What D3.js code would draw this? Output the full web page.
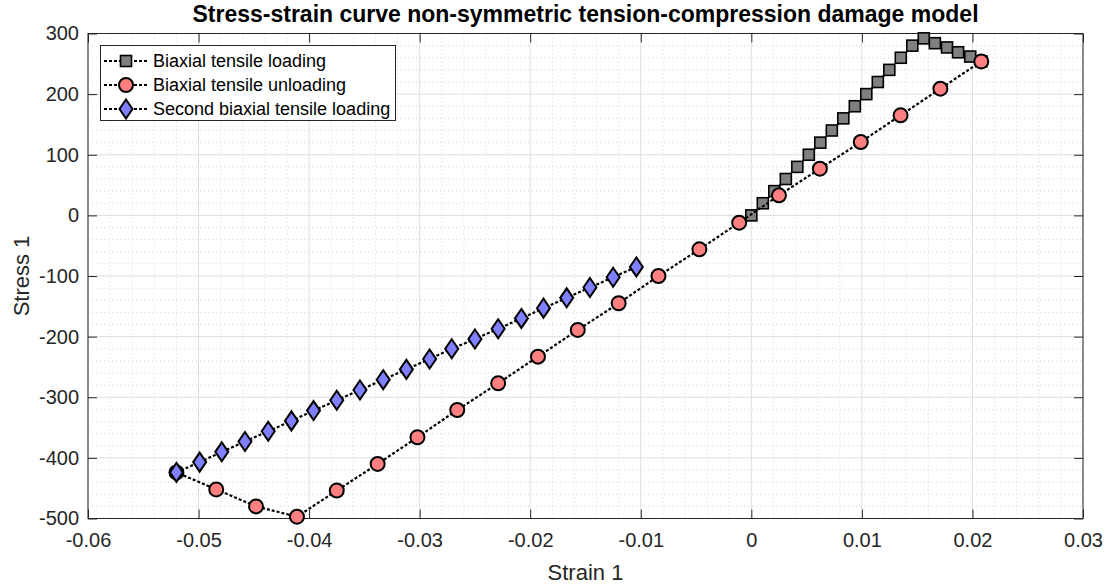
<!DOCTYPE html>
<html>
<head>
<meta charset="utf-8">
<script src="https://cdn.jsdelivr.net/npm/d3@7"></script>
<style>
  html, body { margin: 0; padding: 0; background: #fff; }
  svg { display: block; font-family: "Liberation Sans", Arial, Helvetica, sans-serif; }
</style>
</head>
<body>
<svg id="chart" width="1108" height="584"></svg>
<script>
// Biaxial tensile loading (strain, stress)
const loadStrain = [0, 0.00104, 0.00208, 0.00312, 0.00416, 0.0052, 0.00624, 0.00728, 0.00832, 0.00936,
  0.0104, 0.01144, 0.01248, 0.01352, 0.01456, 0.0156, 0.0166, 0.0177, 0.0187, 0.0198, 0.0208];
const loadStress = [0, 20, 40, 60, 80, 100, 120, 140, 160, 180,
  200, 220, 240, 260, 280, 292, 284, 277, 269, 262, 254];

// Biaxial tensile unloading
const unloadStrain = [0.0208, 0.0171, 0.0135, 0.0099, 0.0062, 0.0025, -0.0011, -0.0047, -0.0084, -0.0120,
  -0.0157, -0.0193, -0.0229, -0.0266, -0.0302, -0.0338, -0.0375, -0.0411, -0.0448, -0.0484, -0.0520];
const unloadStress = [254, 209, 165, 121, 77, 33, -12, -56, -100, -145,
  -189, -233, -277, -321, -366, -410, -454, -497, -480, -452, -424];

// Second biaxial tensile loading
const reloadStrain = [-0.0520, -0.0499, -0.0479, -0.0458, -0.0437, -0.0416, -0.0396, -0.0375, -0.0354, -0.0333,
  -0.0312, -0.0291, -0.0271, -0.0250, -0.0229, -0.0208, -0.0188, -0.0167, -0.0146, -0.0125, -0.0104];
const reloadStress = [-424, -407, -390, -373, -356, -339, -322, -305, -288, -271,
  -254, -237, -220, -204, -187, -170, -153, -136, -119, -102, -85];

const seriesNames = ["Biaxial tensile loading", "Biaxial tensile unloading", "Second biaxial tensile loading"];

const xTicks = [-0.06, -0.05, -0.04, -0.03, -0.02, -0.01, 0, 0.01, 0.02, 0.03];
const xTickLabels = ["-0.06", "-0.05", "-0.04", "-0.03", "-0.02", "-0.01", "0", "0.01", "0.02", "0.03"];
const yTicks = [-500, -400, -300, -200, -100, 0, 100, 200, 300];
const yTickLabels = ["-500", "-400", "-300", "-200", "-100", "0", "100", "200", "300"];

const titleText = "Stress-strain curve non-symmetric tension-compression damage model";
const xLabel = "Strain 1";
const yLabel = "Stress 1";

// ---- layout ----
const svg = d3.select("#chart");
const plotL = 88, plotR = 1083, plotT = 33.5, plotB = 518.5;
const x = d3.scaleLinear().domain([-0.06, 0.03]).range([plotL, plotR]);
const y = d3.scaleLinear().domain([-500, 300]).range([plotB, plotT]);

const axisColor = "#262626";

// ---- grid ----
const grid = svg.append("g");
const xMinor = d3.range(-0.06, 0.0301, 0.002).filter(v => Math.abs(Math.round(v * 100) - v * 100) > 1e-6);
const yMinor = d3.range(-500, 301, 20).filter(v => v % 100 !== 0);
grid.selectAll(".xm").data(xMinor).join("line")
  .attr("x1", d => x(d)).attr("x2", d => x(d)).attr("y1", plotT).attr("y2", plotB)
  .attr("stroke", "#d4d4d4").attr("stroke-width", 1).attr("stroke-dasharray", "1,3");
grid.selectAll(".ym").data(yMinor).join("line")
  .attr("y1", d => y(d)).attr("y2", d => y(d)).attr("x1", plotL).attr("x2", plotR)
  .attr("stroke", "#d4d4d4").attr("stroke-width", 1).attr("stroke-dasharray", "1,3");
grid.selectAll(".xM").data(xTicks).join("line")
  .attr("x1", d => x(d)).attr("x2", d => x(d)).attr("y1", plotT).attr("y2", plotB)
  .attr("stroke", "#dfdfdf").attr("stroke-width", 1);
grid.selectAll(".yM").data(yTicks).join("line")
  .attr("y1", d => y(d)).attr("y2", d => y(d)).attr("x1", plotL).attr("x2", plotR)
  .attr("stroke", "#dfdfdf").attr("stroke-width", 1);

// ---- axes ----
function styleAxis(g) {
  g.select(".domain").remove();
  g.selectAll(".tick line").attr("stroke", axisColor).attr("stroke-width", 1);
  g.selectAll(".tick text").attr("fill", axisColor).attr("font-size", 20)
    .attr("font-family", "Liberation Sans, Arial, sans-serif");
}
svg.append("g").attr("transform", `translate(0,${plotB})`)
  .call(d3.axisBottom(x).tickValues(xTicks).tickFormat((d, i) => xTickLabels[i])
    .tickSizeInner(-9).tickSizeOuter(0).tickPadding(14))
  .call(styleAxis);
svg.append("g").attr("transform", `translate(0,${plotT})`)
  .call(d3.axisTop(x).tickValues(xTicks).tickFormat("")
    .tickSizeInner(-9).tickSizeOuter(0))
  .call(styleAxis);
svg.append("g").attr("transform", `translate(${plotL},0)`)
  .call(d3.axisLeft(y).tickValues(yTicks).tickFormat((d, i) => yTickLabels[i])
    .tickSizeInner(-9).tickSizeOuter(0).tickPadding(9))
  .call(styleAxis);
svg.append("g").attr("transform", `translate(${plotR},0)`)
  .call(d3.axisRight(y).tickValues(yTicks).tickFormat("")
    .tickSizeInner(-9).tickSizeOuter(0))
  .call(styleAxis);

// box
svg.append("rect").attr("x", plotL).attr("y", plotT)
  .attr("width", plotR - plotL).attr("height", plotB - plotT)
  .attr("fill", "none").attr("stroke", axisColor).attr("stroke-width", 1);

// ---- series ----
const lineGen = d3.line().x(d => x(d[0])).y(d => y(d[1]));

function marker(sel, kind, fill) {
  if (kind === "square") {
    sel.append("rect").attr("x", -5.5).attr("y", -5.5).attr("width", 11).attr("height", 11)
      .attr("fill", fill).attr("stroke", "#000").attr("stroke-width", 1.6);
  } else if (kind === "circle") {
    sel.append("circle").attr("r", 7).attr("fill", fill).attr("stroke", "#000").attr("stroke-width", 2);
  } else {
    sel.append("path").attr("d", "M0,-9.5L6.5,0L0,9.5L-6.5,0Z")
      .attr("fill", fill).attr("stroke", "#000").attr("stroke-width", 2).attr("stroke-linejoin", "miter");
  }
}

const series = [
  { xs: loadStrain, ys: loadStress, kind: "square", fill: "#808080" },
  { xs: unloadStrain, ys: unloadStress, kind: "circle", fill: "#ff8080" },
  { xs: reloadStrain, ys: reloadStress, kind: "diamond", fill: "#8080ff" }
];

const plot = svg.append("g");
series.forEach(s => {
  const pts = s.xs.map((v, i) => [v, s.ys[i]]);
  plot.append("path").datum(pts).attr("d", lineGen)
    .attr("fill", "none").attr("stroke", "#000").attr("stroke-width", 2.2)
    .attr("stroke-dasharray", "3,2");
  plot.append("g").selectAll("g").data(pts).join("g")
    .attr("transform", d => `translate(${x(d[0])},${y(d[1])})`)
    .each(function () { marker(d3.select(this), s.kind, s.fill); });
});

// ---- legend ----
const lg = svg.append("g");
lg.append("rect").attr("x", 100.5).attr("y", 45.5).attr("width", 295).attr("height", 75)
  .attr("fill", "#fff").attr("stroke", axisColor).attr("stroke-width", 1);
series.forEach((s, i) => {
  const cy = 61 + i * 24;
  lg.append("line").attr("x1", 104).attr("x2", 148).attr("y1", cy).attr("y2", cy)
    .attr("stroke", "#000").attr("stroke-width", 2.2).attr("stroke-dasharray", "3,2");
  const m = lg.append("g").attr("transform", `translate(126,${cy})`);
  marker(m, s.kind, s.fill);
  lg.append("text").attr("x", 153).attr("y", cy).attr("dy", "0.35em")
    .attr("font-size", 18).attr("fill", "#000").text(seriesNames[i]);
});

// ---- titles ----
svg.append("text").attr("x", (plotL + plotR) / 2).attr("y", 22)
  .attr("text-anchor", "middle").attr("font-size", 23).attr("font-weight", "bold")
  .attr("fill", "#000").text(titleText);
svg.append("text").attr("x", (plotL + plotR) / 2).attr("y", 580)
  .attr("text-anchor", "middle").attr("font-size", 22).attr("fill", axisColor).text(xLabel);
svg.append("text").attr("transform", `translate(29,${(plotT + plotB) / 2}) rotate(-90)`)
  .attr("text-anchor", "middle").attr("font-size", 22).attr("fill", axisColor).text(yLabel);
</script>
</body>
</html>
